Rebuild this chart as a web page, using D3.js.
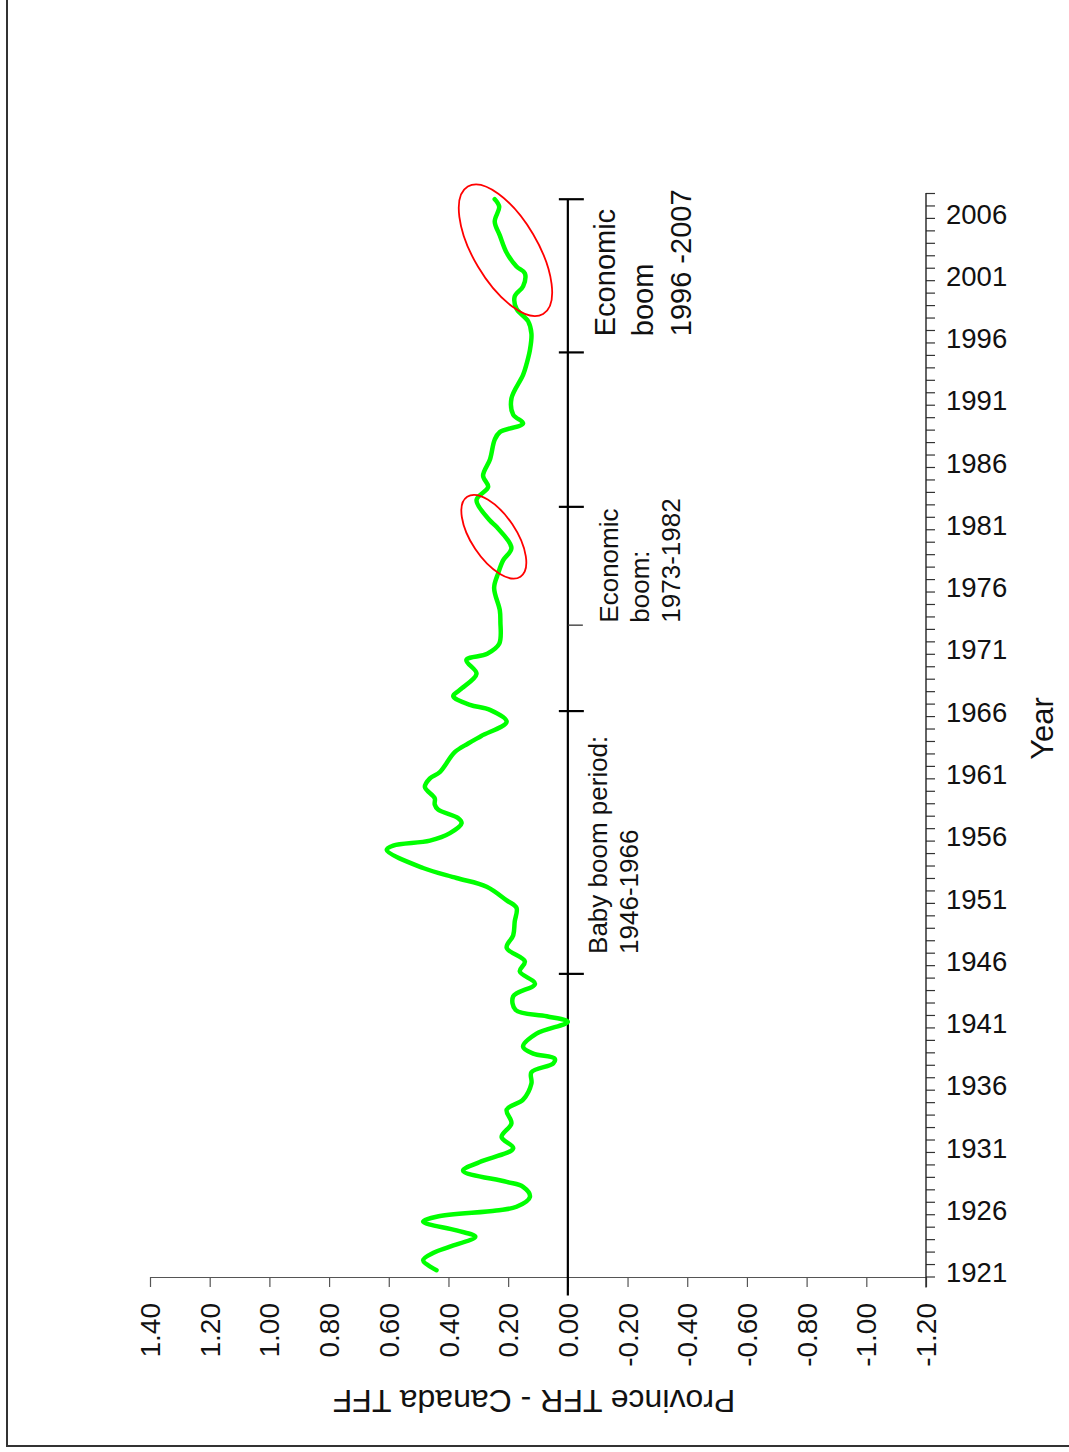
<!DOCTYPE html>
<html>
<head>
<meta charset="utf-8">
<script src="https://cdn.jsdelivr.net/npm/d3@7"></script>
<style>
  html, body { margin: 0; padding: 0; background: #fff; }
  svg { display: block; font-family: "Liberation Sans", Arial, Helvetica, sans-serif; }
</style>
</head>
<body>
<svg id="chart" width="1069" height="1452"></svg>
<script>
// Province TFR minus Canada TFR, by year (smoothed trace)
const years = [
  1921.0, 1921.8, 1922.4, 1922.9, 1923.7, 1924.2, 1924.9, 1925.3, 1925.8, 1926.1,
  1926.9, 1927.7, 1928.1, 1929.0, 1929.7, 1930.8, 1931.7, 1932.8, 1933.9, 1934.7,
  1936.0, 1936.9, 1937.6, 1938.0, 1938.4, 1938.95, 1940.0, 1940.95, 1941.4, 1941.9,
  1943.0, 1944.0, 1945.0, 1945.8, 1946.9, 1947.9, 1949.0, 1950.1, 1950.7, 1951.8,
  1952.5, 1953.3, 1954.75, 1955.1, 1955.5, 1956.1, 1956.9, 1957.3, 1958.0, 1958.4,
  1958.9, 1959.8, 1960.5, 1961.0, 1962.6, 1963.3, 1963.9, 1965.05, 1966.0, 1966.4,
  1967.1, 1967.6, 1968.9, 1970.0, 1970.5, 1971.3, 1973.1, 1974.0, 1975.8, 1977.0,
  1978.0, 1979.0, 1980.7, 1981.2, 1982.85, 1983.9, 1984.8, 1986.1, 1987.7, 1988.3,
  1989.0, 1989.7, 1991.0, 1992.9, 1993.8, 1994.9, 1996.2, 1997.2, 1998.2, 1999.2,
  2000.0, 2001.05, 2001.6, 2002.7, 2004.1, 2005.2, 2006.4, 2007.0
];
const tfrDiff = [
  0.440, 0.485, 0.450, 0.395, 0.310, 0.373, 0.485, 0.440, 0.240, 0.172,
  0.127, 0.150, 0.205, 0.351, 0.295, 0.183, 0.222, 0.189, 0.205, 0.150,
  0.122, 0.122, 0.049, 0.044, 0.116, 0.150, 0.105, 0.000, 0.071, 0.175,
  0.183, 0.110, 0.161, 0.144, 0.205, 0.183, 0.178, 0.172, 0.205, 0.272,
  0.373, 0.485, 0.607, 0.585, 0.462, 0.395, 0.356, 0.367, 0.435, 0.446,
  0.446, 0.479, 0.462, 0.429, 0.379, 0.334, 0.290, 0.205, 0.261, 0.328,
  0.384, 0.362, 0.306, 0.340, 0.270, 0.230, 0.226, 0.228, 0.247, 0.233,
  0.217, 0.189, 0.239, 0.261, 0.306, 0.267, 0.284, 0.261, 0.245, 0.228,
  0.150, 0.183, 0.189, 0.150, 0.138, 0.127, 0.122, 0.133, 0.172, 0.178,
  0.150, 0.144, 0.172, 0.205, 0.228, 0.245, 0.230, 0.245
];

// Axis ticks
const valueTicks = [1.40, 1.20, 1.00, 0.80, 0.60, 0.40, 0.20, 0.00, -0.20, -0.40, -0.60, -0.80, -1.00, -1.20];
const yearLabels = [1921, 1926, 1931, 1936, 1941, 1946, 1951, 1956, 1961, 1966, 1971, 1976, 1981, 1986, 1991, 1996, 2001, 2006];
const firstYear = 1921, lastYear = 2007;

// Period markers on the zero line
const periodMarks = [2007, 1994.7, 1982.3, 1965.9, 1944.8];
const minorMarks = [1972.8];

// Period annotations (start year, lines of text)
const periodStarts = [1996, 1973, 1946.4];
const periodTexts = [
  ["Economic", "boom", "1996 -2007"],
  ["Economic", "boom:", "1973-1982"],
  ["Baby boom period:", "1946-1966"]
];

// Highlighted stretches (centre year, centre value)
const highlightYears = [2002.9, 1979.9];
const highlightValues = [0.209, 0.248];

const valueTitle = "Province TFR - Canada TFF";
const yearTitle = "Year";

const svg = d3.select("#chart");

// Chart is laid out sideways: value runs left-to-right (decreasing), year runs bottom-to-top
const x = d3.scaleLinear().domain([1.4, -1.2]).range([150, 926]);
const y = d3.scaleLinear().domain([firstYear - 0.5, lastYear + 0.5]).range([1276.5, 193]);

// Outer frame
svg.append("rect")
  .attr("x", 7).attr("y", -10).attr("width", 1100).attr("height", 1456)
  .attr("fill", "none").attr("stroke", "#333").attr("stroke-width", 2);

// Value axis (along the bottom)
const xAxis = d3.axisBottom(x).tickValues(valueTicks).tickSize(10).tickFormat("").tickSizeOuter(0);
const gx = svg.append("g").attr("transform", `translate(0,${y(firstYear - 0.5) + 0.5})`).call(xAxis);
gx.select(".domain").attr("stroke", "#555").attr("stroke-width", 1.2);
gx.selectAll(".tick line").attr("stroke", "#555").attr("stroke-width", 1.2);

svg.append("g").selectAll("text")
  .data(valueTicks)
  .join("text")
  .attr("transform", d => `translate(${x(d)},1303) rotate(-90)`)
  .attr("text-anchor", "end")
  .attr("dy", "0.36em")
  .attr("font-size", 28)
  .attr("fill", "#111")
  .text(d => d.toFixed(2));

svg.append("text")
  .attr("transform", `translate(${(x(1.4) + x(-1.2)) / 2 - 4},1390) rotate(180)`)
  .attr("text-anchor", "middle")
  .attr("font-size", 32)
  .attr("fill", "#111")
  .text(valueTitle);

// Year axis (along the right)
const boundaries = d3.range(firstYear - 0.5, lastYear + 1, 1);
const yAxis = d3.axisRight(y).tickValues(boundaries).tickSize(9).tickFormat("").tickSizeOuter(0);
const gy = svg.append("g").attr("transform", `translate(${x(-1.2)},0)`).call(yAxis);
gy.select(".domain").remove();
gy.selectAll(".tick line").attr("stroke", "#333").attr("stroke-width", 1.2);
gy.append("line")
  .attr("x1", 0).attr("x2", 0)
  .attr("y1", y(lastYear + 0.5)).attr("y2", y(firstYear - 0.5) + 11)
  .attr("stroke", "#222").attr("stroke-width", 1.4);

svg.append("g").selectAll("text")
  .data(yearLabels)
  .join("text")
  .attr("x", x(-1.2) + 20)
  .attr("y", d => y(d) + 2)
  .attr("dy", "0.36em")
  .attr("font-size", 27.5)
  .attr("fill", "#111")
  .text(d => d);

svg.append("text")
  .attr("transform", `translate(1053,${y(1964.5)}) rotate(-90)`)
  .attr("text-anchor", "middle")
  .attr("font-size", 31)
  .attr("fill", "#111")
  .text(yearTitle);

// Zero line with period markers
svg.append("line")
  .attr("x1", x(0)).attr("x2", x(0))
  .attr("y1", y(lastYear)).attr("y2", y(firstYear - 0.5) + 19)
  .attr("stroke", "#000").attr("stroke-width", 2.2);

svg.append("g").selectAll("line")
  .data(periodMarks)
  .join("line")
  .attr("x1", x(0) - 9).attr("x2", x(0) + 16)
  .attr("y1", d => y(d)).attr("y2", d => y(d))
  .attr("stroke", "#000").attr("stroke-width", 2.2);

svg.append("g").selectAll("line")
  .data(minorMarks)
  .join("line")
  .attr("x1", x(0)).attr("x2", x(0) + 15)
  .attr("y1", d => y(d)).attr("y2", d => y(d))
  .attr("stroke", "#333").attr("stroke-width", 1.3);

// Period annotations
const annLayout = [
  { bx: 615, size: 29, gap: 38 },
  { bx: 618, size: 26, gap: 31 },
  { bx: 606.5, size: 26, gap: 31.5 }
];
periodTexts.forEach((lines, i) => {
  const L = annLayout[i];
  const g = svg.append("g")
    .attr("transform", `translate(${L.bx},${y(periodStarts[i])}) rotate(-90)`);
  g.selectAll("text")
    .data(lines)
    .join("text")
    .attr("x", 0)
    .attr("y", (d, j) => j * L.gap)
    .attr("font-size", L.size)
    .attr("fill", "#111")
    .text(d => d);
});

// Green difference line
const pts = years.map((yr, i) => [yr, tfrDiff[i]]);
svg.append("path")
  .datum(pts)
  .attr("fill", "none")
  .attr("stroke", "#00ff00")
  .attr("stroke-width", 4.5)
  .attr("stroke-linejoin", "round")
  .attr("stroke-linecap", "round")
  .attr("d", d3.line()
    .x(d => x(d[1]))
    .y(d => y(d[0]))
    .curve(d3.curveCatmullRom.alpha(0.5)));

// Red ellipses around the boom-period upturns
const ellipseShape = [
  { rx: 32, ry: 74, rot: -30.6 },
  { rx: 22.3, ry: 48, rot: -33.7 }
];
highlightYears.forEach((yr, i) => {
  const e = ellipseShape[i];
  svg.append("ellipse")
    .attr("transform", `translate(${x(highlightValues[i])},${y(yr)}) rotate(${e.rot})`)
    .attr("rx", e.rx).attr("ry", e.ry)
    .attr("fill", "none")
    .attr("stroke", "#f00")
    .attr("stroke-width", 1.8);
});
</script>
</body>
</html>
